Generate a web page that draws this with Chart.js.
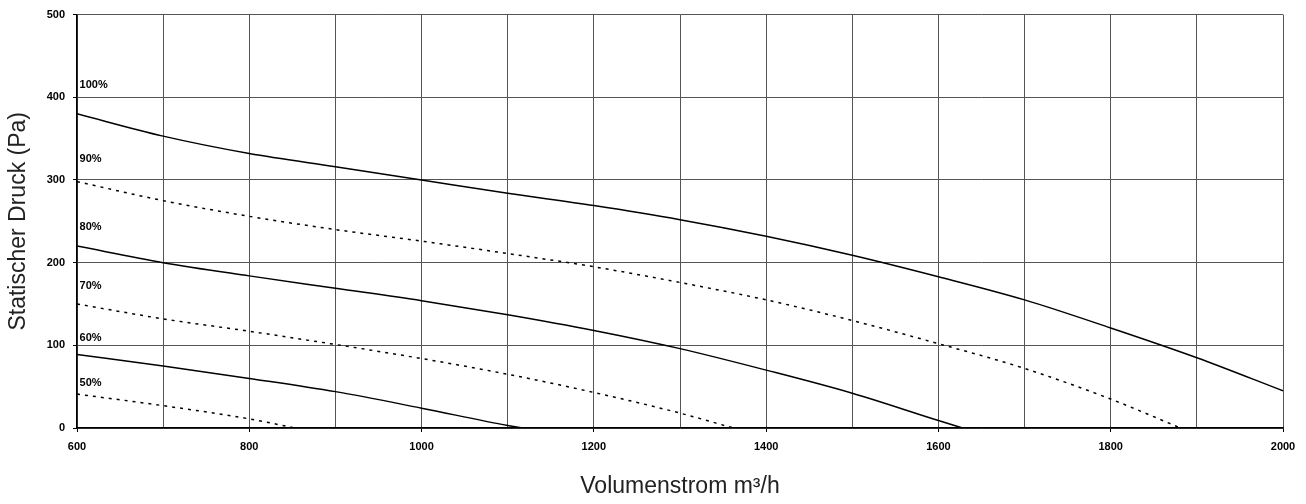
<!DOCTYPE html>
<html>
<head>
<meta charset="utf-8">
<script src="https://cdn.jsdelivr.net/npm/chart.js@4.4.1/dist/chart.umd.min.js"></script>
<style>
  body { margin: 0; background: #fff; }
  #wrap { width: 1306px; height: 504px; }
</style>
</head>
<body>
<div id="wrap"><canvas id="canvas"></canvas></div>
<script>
// fan curves: volume flow (m3/h) vs static pressure (Pa)
var curveNames = ['100%', '90%', '80%', '70%', '60%', '50%']
var flow100 = [600, 700, 800, 900, 1000, 1100, 1200, 1300, 1400, 1500, 1600, 1700, 1800, 1900, 2000]
var pres100 = [380, 353, 332, 316, 300, 284, 269, 252, 232, 209, 183, 155, 121, 85, 45]
var flow90 = [600, 700, 800, 900, 1000, 1100, 1200, 1300, 1400, 1500, 1600, 1700, 1800, 1881]
var pres90 = [298, 275, 256, 240, 226, 211, 195, 176, 155, 130, 102, 72, 35, 0]
var flow80 = [600, 700, 800, 900, 1000, 1100, 1200, 1300, 1400, 1500, 1600, 1628]
var pres80 = [220, 200, 184, 169, 154, 137, 118, 96, 70, 42, 9, 0]
var flow70 = [600, 700, 800, 900, 1000, 1100, 1200, 1300, 1362]
var pres70 = [150, 132, 117, 101, 84, 65, 43, 18, 0]
var flow60 = [600, 700, 800, 900, 1000, 1100, 1118]
var pres60 = [89, 75, 60, 44, 24, 3, 0]
var flow50 = [600, 700, 800, 853]
var pres50 = [41, 27, 11, 0]
// where the % labels sit (x, y in data units)
var labelFlow = 603
var labelPres = [415, 325, 243, 172, 109, 55]
var xTicks = [600, 800, 1000, 1200, 1400, 1600, 1800, 2000]

var flows = [flow100, flow90, flow80, flow70, flow60, flow50]
var presses = [pres100, pres90, pres80, pres70, pres60, pres50]

function pts(xs, ys) {
    return xs.map(function(x, i) { return { x: x, y: ys[i] } })
}

var sets = curveNames.map(function(name, i) {
    var dashed = i % 2 == 1
    return {
        label: name,
        data: pts(flows[i], presses[i]),
        borderColor: '#000',
        borderWidth: 1.5,
        borderDash: dashed ? [3, 5] : [],
        pointRadius: 0,
        fill: false,
        cubicInterpolationMode: 'monotone'
    }
})

var curveLabels = {
    id: 'curveLabels',
    afterDatasetsDraw: function(chart) {
        var c = chart.ctx
        var xs = chart.scales.x, ys = chart.scales.y
        c.save()
        c.font = 'bold 11px "Liberation Sans", Arial, sans-serif'
        c.fillStyle = '#000'
        c.textAlign = 'left'
        c.textBaseline = 'middle'
        curveNames.forEach(function(n, i) {
            c.fillText(n, xs.getPixelForValue(labelFlow), ys.getPixelForValue(labelPres[i]))
        })
        c.restore()
    }
}

var tickFont = { family: '"Liberation Sans", Arial, sans-serif', size: 11, weight: 'bold' }
var titleFont = { family: '"Liberation Sans", Arial, sans-serif', size: 23, weight: 'normal' }

var ctx = document.getElementById('canvas').getContext('2d')
var chart = new Chart(ctx, {
    type: 'line',
    data: { datasets: sets },
    options: {
        responsive: true,
        maintainAspectRatio: false,
        animation: false,
        layout: { padding: { top: 9, right: 23, left: 0, bottom: 0 } },
        plugins: {
            legend: { display: false },
            tooltip: { enabled: false }
        },
        scales: {
            x: {
                type: 'linear',
                min: 600,
                max: 2000,
                afterFit: function(s) { s.height = 76 },
                ticks: {
                    stepSize: 100,
                    color: '#000',
                    font: tickFont,
                    maxRotation: 0,
                    padding: 8,
                    autoSkip: false,
                    callback: function(v) { return xTicks.indexOf(v) >= 0 ? String(v) : '' }
                },
                grid: {
                    color: '#555',
                    lineWidth: 1,
                    tickLength: 4,
                    tickColor: function(c) { return c.tick && xTicks.indexOf(c.tick.value) >= 0 ? '#000' : 'rgba(0,0,0,0)' }
                },
                border: { color: '#000', width: 1.5 },
                title: {
                    display: true,
                    text: 'Volumenstrom m³/h',
                    color: '#222',
                    font: titleFont,
                    padding: { top: 0, bottom: 4 }
                }
            },
            y: {
                min: 0,
                max: 500,
                afterFit: function(s) { s.width = 77 },
                ticks: {
                    stepSize: 100,
                    color: '#000',
                    font: tickFont,
                    padding: 8
                },
                grid: { color: '#555', lineWidth: 1, tickLength: 4, tickColor: '#000' },
                border: { color: '#000', width: 1.5 },
                title: {
                    display: true,
                    text: 'Statischer Druck (Pa)',
                    color: '#222',
                    font: titleFont,
                    padding: { top: 5, bottom: 0 }
                }
            }
        }
    },
    plugins: [curveLabels]
})
</script>
</body>
</html>
